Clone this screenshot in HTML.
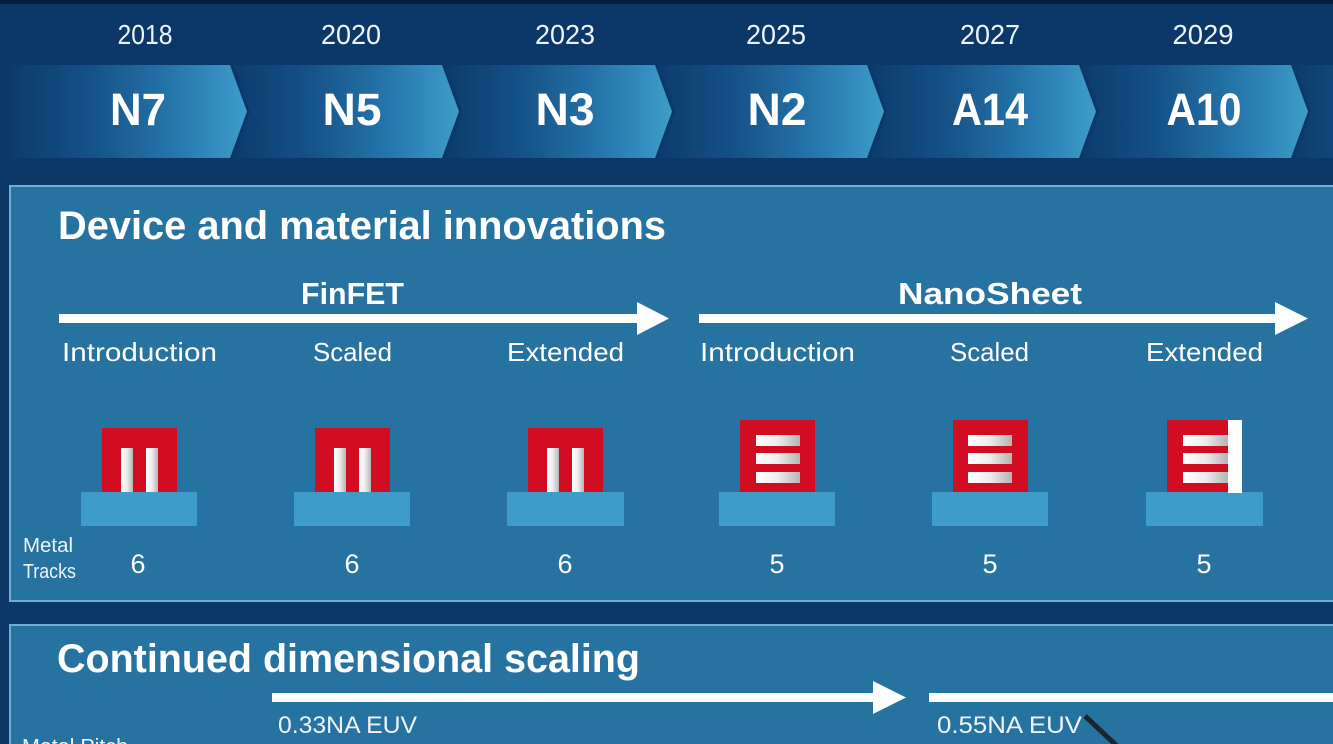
<!DOCTYPE html>
<html><head><meta charset="utf-8"><style>
html,body{margin:0;padding:0;background:#0b3868;}
svg{display:block;}
text{font-family:"Liberation Sans",sans-serif;fill:#fff;}
.b{font-weight:bold;}
.l{fill:#eef5fa;}
</style></head><body>
<svg width="1333" height="744" viewBox="0 0 1333 744" xmlns="http://www.w3.org/2000/svg">
<defs>
<linearGradient id="chev" x1="0" y1="0" x2="1" y2="0">
<stop offset="0" stop-color="#0c3b6c"/>
<stop offset="0.35" stop-color="#155389"/>
<stop offset="0.7" stop-color="#2677ad"/>
<stop offset="1" stop-color="#3d9dca"/>
</linearGradient>
<linearGradient id="fin" x1="0" y1="0" x2="1" y2="0">
<stop offset="0" stop-color="#ffffff"/>
<stop offset="0.5" stop-color="#ececec"/>
<stop offset="1" stop-color="#b4b4b4"/>
</linearGradient>
</defs>
<rect x="0" y="0" width="1333" height="744" fill="#0b3868"/>
<rect x="0" y="0" width="1333" height="4" fill="#061f3d"/>
<!-- chevrons -->
<polygon points="12,65 230,65 247,111.5 230,158 12,158" fill="url(#chev)"/>
<polygon points="234,65 442,65 459,111.5 442,158 234,158 250,111.5" fill="url(#chev)"/>
<polygon points="446,65 655,65 672,111.5 655,158 446,158 462,111.5" fill="url(#chev)"/>
<polygon points="659,65 867,65 884,111.5 867,158 659,158 675,111.5" fill="url(#chev)"/>
<polygon points="871,65 1079,65 1096,111.5 1079,158 871,158 887,111.5" fill="url(#chev)"/>
<polygon points="1083,65 1291,65 1308,111.5 1291,158 1083,158 1099,111.5" fill="url(#chev)"/>
<polygon points="1295,65 1503,65 1520,111.5 1503,158 1295,158 1311,111.5" fill="url(#chev)"/>
<!-- years -->
<text x="145" y="44" font-size="28" text-anchor="middle" textLength="55" lengthAdjust="spacingAndGlyphs" class="l">2018</text>
<text x="351" y="44" font-size="28" text-anchor="middle" textLength="60" lengthAdjust="spacingAndGlyphs" class="l">2020</text>
<text x="565" y="44" font-size="28" text-anchor="middle" textLength="60" lengthAdjust="spacingAndGlyphs" class="l">2023</text>
<text x="776" y="44" font-size="28" text-anchor="middle" textLength="60" lengthAdjust="spacingAndGlyphs" class="l">2025</text>
<text x="990" y="44" font-size="28" text-anchor="middle" textLength="60" lengthAdjust="spacingAndGlyphs" class="l">2027</text>
<text x="1203" y="44" font-size="28" text-anchor="middle" textLength="61" lengthAdjust="spacingAndGlyphs" class="l">2029</text>
<!-- node names -->
<text x="138" y="125" font-size="45" class="b" text-anchor="middle" textLength="56" lengthAdjust="spacingAndGlyphs">N7</text>
<text x="352" y="125" font-size="45" class="b" text-anchor="middle" textLength="59" lengthAdjust="spacingAndGlyphs">N5</text>
<text x="565" y="125" font-size="45" class="b" text-anchor="middle" textLength="59" lengthAdjust="spacingAndGlyphs">N3</text>
<text x="777" y="125" font-size="45" class="b" text-anchor="middle" textLength="59" lengthAdjust="spacingAndGlyphs">N2</text>
<text x="990" y="125" font-size="45" class="b" text-anchor="middle" textLength="76" lengthAdjust="spacingAndGlyphs">A14</text>
<text x="1204" y="125" font-size="45" class="b" text-anchor="middle" textLength="75" lengthAdjust="spacingAndGlyphs">A10</text>
<!-- panel 1 -->
<rect x="10" y="186" width="1340" height="415" fill="#2672a0" stroke="#74add3" stroke-width="2"/>
<text x="58" y="239" font-size="40" class="b" textLength="608" lengthAdjust="spacingAndGlyphs">Device and material innovations</text>
<text x="352.5" y="304" font-size="31" class="b" text-anchor="middle" textLength="103" lengthAdjust="spacingAndGlyphs">FinFET</text>
<text x="990" y="304" font-size="31" class="b" text-anchor="middle" textLength="184" lengthAdjust="spacingAndGlyphs">NanoSheet</text>
<rect x="59" y="314" width="582" height="9" fill="#fff"/>
<polygon points="637,302 669,318.5 637,335" fill="#fff"/>
<rect x="699" y="314" width="580" height="9" fill="#fff"/>
<polygon points="1275,302 1308,318.5 1275,335" fill="#fff"/>
<g font-size="26" class="l">
<text x="62" y="361" textLength="155" lengthAdjust="spacingAndGlyphs">Introduction</text>
<text x="313" y="361" textLength="79" lengthAdjust="spacingAndGlyphs">Scaled</text>
<text x="507" y="361" textLength="117" lengthAdjust="spacingAndGlyphs">Extended</text>
<text x="700" y="361" textLength="155" lengthAdjust="spacingAndGlyphs">Introduction</text>
<text x="950" y="361" textLength="79" lengthAdjust="spacingAndGlyphs">Scaled</text>
<text x="1146" y="361" textLength="117" lengthAdjust="spacingAndGlyphs">Extended</text>
</g>
<!-- FinFET devices -->
<g>
<rect x="81" y="492" width="116" height="34" fill="#3f9bc7"/>
<rect x="102" y="428" width="75" height="64" fill="#d20d22"/>
<rect x="121" y="448" width="12" height="44" fill="url(#fin)"/>
<rect x="146" y="448" width="12" height="44" fill="url(#fin)"/>
</g>
<g transform="translate(213,0)">
<rect x="81" y="492" width="116" height="34" fill="#3f9bc7"/>
<rect x="102" y="428" width="75" height="64" fill="#d20d22"/>
<rect x="121" y="448" width="12" height="44" fill="url(#fin)"/>
<rect x="146" y="448" width="12" height="44" fill="url(#fin)"/>
</g>
<g transform="translate(426,0)">
<rect x="81" y="492" width="117" height="34" fill="#3f9bc7"/>
<rect x="102" y="428" width="75" height="64" fill="#d20d22"/>
<rect x="121" y="448" width="12" height="44" fill="url(#fin)"/>
<rect x="146" y="448" width="12" height="44" fill="url(#fin)"/>
</g>
<!-- Nanosheet devices -->
<g>
<rect x="719" y="492" width="116" height="34" fill="#3f9bc7"/>
<rect x="740" y="420" width="75" height="72" fill="#d20d22"/>
<rect x="756" y="435" width="44" height="11" fill="url(#fin)"/>
<rect x="756" y="453" width="44" height="11" fill="url(#fin)"/>
<rect x="756" y="472" width="44" height="11" fill="url(#fin)"/>
</g>
<g>
<rect x="932" y="492" width="116" height="34" fill="#3f9bc7"/>
<rect x="953" y="420" width="75" height="72" fill="#d20d22"/>
<rect x="968" y="435" width="44" height="11" fill="url(#fin)"/>
<rect x="968" y="453" width="44" height="11" fill="url(#fin)"/>
<rect x="968" y="472" width="44" height="11" fill="url(#fin)"/>
</g>
<g>
<rect x="1146" y="492" width="117" height="34" fill="#3f9bc7"/>
<rect x="1167" y="420" width="61" height="72" fill="#d20d22"/>
<rect x="1183" y="435" width="45" height="11" fill="url(#fin)"/>
<rect x="1183" y="453" width="45" height="11" fill="url(#fin)"/>
<rect x="1183" y="472" width="45" height="11" fill="url(#fin)"/>
<rect x="1228" y="420" width="14" height="73" fill="#ffffff"/>
</g>
<text x="23" y="552" font-size="20" class="l" textLength="50" lengthAdjust="spacingAndGlyphs">Metal</text>
<text x="23" y="578" font-size="20" class="l" textLength="53" lengthAdjust="spacingAndGlyphs">Tracks</text>
<g font-size="27" class="l" text-anchor="middle">
<text x="138" y="573">6</text>
<text x="352" y="573">6</text>
<text x="565" y="573">6</text>
<text x="777" y="573">5</text>
<text x="990" y="573">5</text>
<text x="1204" y="573">5</text>
</g>
<!-- panel 2 -->
<rect x="10" y="625" width="1340" height="140" fill="#2672a0" stroke="#74add3" stroke-width="2"/>
<text x="57" y="672" font-size="40" class="b" textLength="583" lengthAdjust="spacingAndGlyphs">Continued dimensional scaling</text>
<rect x="272" y="693" width="604" height="9" fill="#fff"/>
<polygon points="873,681 906,697.5 873,714" fill="#fff"/>
<rect x="929" y="693" width="410" height="9" fill="#fff"/>
<text x="278" y="733" font-size="24" class="l" textLength="139" lengthAdjust="spacingAndGlyphs">0.33NA EUV</text>
<text x="937" y="733" font-size="24" class="l" textLength="145" lengthAdjust="spacingAndGlyphs">0.55NA EUV</text>
<text x="22" y="753" font-size="20" class="l" textLength="106" lengthAdjust="spacingAndGlyphs">Metal Pitch</text>
<line x1="1085" y1="716" x2="1117" y2="746" stroke="#1b2530" stroke-width="5"/>
</svg>
</body></html>
